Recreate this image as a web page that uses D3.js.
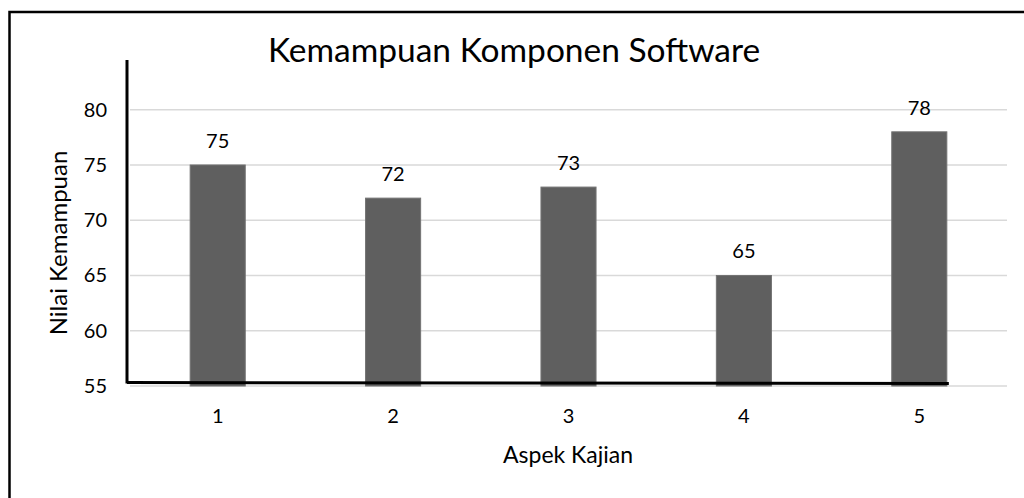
<!DOCTYPE html>
<html>
<head>
<meta charset="utf-8">
<style>
  body { margin: 0; background: #fff; }
  svg text { font-family: Lato, "Open Sans", sans-serif; fill: #000; }
</style>
</head>
<body>
<svg width="1024" height="498"></svg>
<script src="https://d3js.org/d3.v7.min.js"></script>
<script>
  var categories = ["1", "2", "3", "4", "5"];
  var values = [75, 72, 73, 65, 78];
  var yTicks = [55, 60, 65, 70, 75, 80];

  var svg = d3.select("svg"),
      margin = {top: 60, right: 17, bottom: 112, left: 130},
      width = 1024 - margin.left - margin.right,
      height = 498 - margin.top - margin.bottom;

  // outer frame, runs off the right and bottom of the picture
  svg.append("rect")
      .attr("x", 9.5).attr("y", 12)
      .attr("width", 1030).attr("height", 500)
      .attr("fill", "none")
      .attr("stroke", "#000")
      .attr("stroke-width", 2.5);

  var g = svg.append("g").attr("transform", "translate(" + margin.left + "," + margin.top + ")");

  var x = d3.scaleBand()
      .domain(categories)
      .range([0, width])
      .paddingInner(0.686)
      .paddingOuter(0.343);

  var y = d3.scaleLinear()
      .domain([55, 84.5])
      .range([height, 0]);

  // gridlines
  g.append("g")
      .selectAll("line")
      .data(yTicks)
      .join("line")
      .attr("x1", 0).attr("x2", width)
      .attr("y1", function(d) { return y(d); })
      .attr("y2", function(d) { return y(d); })
      .attr("stroke", "#d9d9d9")
      .attr("stroke-width", 1.5);

  // y tick labels
  var yAxis = g.append("g")
      .call(d3.axisLeft(y).tickValues(yTicks).tickSize(0).tickPadding(23));
  yAxis.select(".domain").remove();
  yAxis.selectAll("text").style("font-size", "20px").style("font-family", "Lato");

  // bars
  g.append("g")
      .selectAll("rect")
      .data(values)
      .join("rect")
      .attr("x", function(d, i) { return x(categories[i]); })
      .attr("y", function(d) { return y(d); })
      .attr("width", x.bandwidth())
      .attr("height", function(d) { return y(55) - y(d); })
      .attr("fill", "#5f5f5f")
      .attr("stroke", "#737373")
      .attr("stroke-width", 1);

  // value labels
  g.append("g")
      .selectAll("text")
      .data(values)
      .join("text")
      .attr("x", function(d, i) { return x(categories[i]) + x.bandwidth() / 2; })
      .attr("y", function(d) { return y(d) - 17; })
      .attr("text-anchor", "middle")
      .style("font-size", "20px")
      .text(function(d) { return d; });

  // x tick labels
  var xAxis = g.append("g")
      .attr("transform", "translate(0," + height + ")")
      .call(d3.axisBottom(x).tickSize(0).tickPadding(23));
  xAxis.select(".domain").remove();
  xAxis.selectAll("text").style("font-size", "20px").style("font-family", "Lato");

  // hand drawn axes lines
  g.append("line")
      .attr("x1", -3).attr("x2", -3)
      .attr("y1", 0).attr("y2", height - 2.5)
      .attr("stroke", "#000").attr("stroke-width", 3);
  g.append("line")
      .attr("x1", -3).attr("x2", x("5") + x.bandwidth() + 2)
      .attr("y1", height - 3.5).attr("y2", height - 2.5)
      .attr("stroke", "#000").attr("stroke-width", 3);

  // titles
  svg.append("text")
      .attr("x", 514).attr("y", 62)
      .attr("text-anchor", "middle")
      .style("font-size", "33.5px")
      .text("Kemampuan Komponen Software");

  svg.append("text")
      .attr("x", 568).attr("y", 463)
      .attr("text-anchor", "middle")
      .style("font-size", "23px")
      .text("Aspek Kajian");

  svg.append("text")
      .attr("transform", "translate(67,243) rotate(-90)")
      .attr("text-anchor", "middle")
      .style("font-size", "24px")
      .text("Nilai Kemampuan");
</script>
</body>
</html>
